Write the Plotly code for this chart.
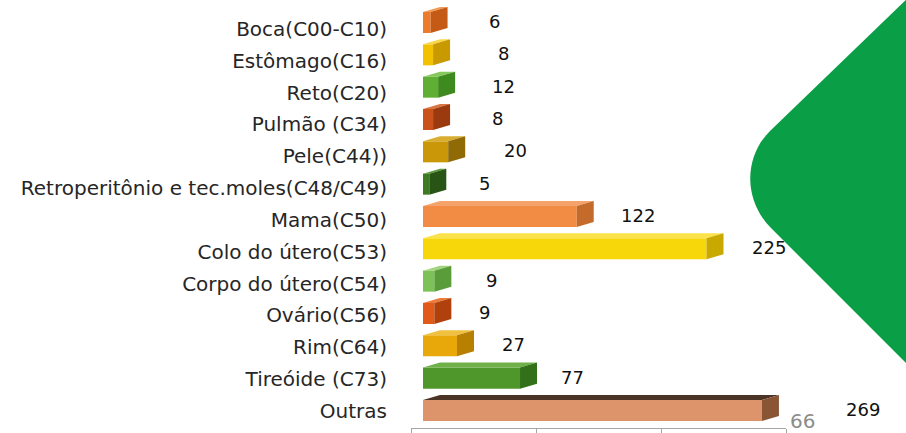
import plotly.graph_objects as go

# Casos por localização primária
categorias = [
    "Boca(C00-C10)", "Estômago(C16)", "Reto(C20)", "Pulmão (C34)", "Pele(C44))",
    "Retroperitônio e tec.moles(C48/C49)", "Mama(C50)", "Colo do útero(C53)",
    "Corpo do útero(C54)", "Ovário(C56)", "Rim(C64)", "Tireóide (C73)", "Outras",
]
casos = [6, 8, 12, 8, 20, 5, 122, 225, 9, 9, 27, 77, 269]

# front / top / side colours of each 3-D bar
cor_frente = ["#EE7A2B", "#F2C200", "#5FAF35", "#C9531B", "#C99708", "#3D7A22", "#F28C45",
              "#F7D60A", "#7CC257", "#E05A1A", "#E8A80A", "#4F962B", "#DE946A"]
cor_topo = ["#F49A55", "#F8D84A", "#86C75E", "#DB7540", "#D9AD30", "#5A9A3A", "#F5A36A",
            "#FAE34A", "#A0D57E", "#EE7A3A", "#F0C040", "#6FB048", "#4B3426"]
cor_lado = ["#C45A15", "#C89A00", "#3F8A1E", "#9A3A0E", "#8F6A05", "#285515", "#C46A2A",
            "#C9A800", "#5A9C3A", "#B0400C", "#B88000", "#33701A", "#8A5535"]
# horizontal nudge (px) of each value label past the bar's back edge
rotulo_dx = [47, 53, 48, 47, 50, 38, 44, 45, 40, 33, 39, 35, 84]

W, H = 906, 433
X0_PX, PX_POR_CASO = 423, 1.26          # bar origin and scale
ROW0_PX, ROW_PX = 20, 32.33             # first row centre and row pitch
AXIS_PX = 428                           # bottom of plotting area
DEPTH_X_PX, DEPTH_Y_PX = 17, 5          # 3-D depth offset

xmax = (W - X0_PX) / PX_POR_CASO
dx = DEPTH_X_PX / PX_POR_CASO
dy = DEPTH_Y_PX / ROW_PX
meia = 0.65 / 2
ydesl = 2.5 / ROW_PX

fig = go.Figure()

n = len(categorias)
for i in range(n):
    v = casos[i]
    yc = i + ydesl
    top, bot = yc - meia, yc + meia
    # front face
    fig.add_trace(go.Bar(x=[v], y=[yc], base=0, width=2 * meia, orientation="h",
                         marker=dict(color=cor_frente[i], line=dict(width=0)),
                         showlegend=False, hoverinfo="skip"))
    # top face
    fig.add_trace(go.Scatter(x=[0, v, v + dx, dx, 0], y=[top, top, top - dy, top - dy, top],
                             fill="toself", fillcolor=cor_topo[i], mode="lines",
                             line=dict(width=0), showlegend=False, hoverinfo="skip"))
    # side face
    fig.add_trace(go.Scatter(x=[v, v + dx, v + dx, v, v], y=[top, top - dy, bot - dy, bot, top],
                             fill="toself", fillcolor=cor_lado[i], mode="lines",
                             line=dict(width=0), showlegend=False, hoverinfo="skip"))
    fig.add_annotation(x=v, y=i + 0.05, xref="x", yref="y", text=str(v), showarrow=False,
                       xanchor="center", yanchor="middle", xshift=DEPTH_X_PX + rotulo_dx[i],
                       font=dict(family="DejaVu Sans", size=18, color="#111111"))

# category labels axis
fig.add_trace(go.Scatter(x=[None], y=[None], xaxis="x", yaxis="y2", showlegend=False))
# value axis (ticks only)
fig.add_trace(go.Scatter(x=[None], y=[None], xaxis="x2", yaxis="y", showlegend=False))

dom_y = [(H - AXIS_PX) / H, 1]
lab0, lab_step = 29, 31.83

fig.update_layout(
    width=W, height=H,
    margin=dict(l=0, r=0, t=0, b=0),
    paper_bgcolor="white", plot_bgcolor="rgba(0,0,0,0)",
    barmode="overlay",
    xaxis=dict(domain=[X0_PX / W, 1], range=[0, xmax], visible=False),
    yaxis=dict(domain=dom_y, range=[(AXIS_PX - ROW0_PX) / ROW_PX, -ROW0_PX / ROW_PX],
               visible=False),
    yaxis2=dict(domain=dom_y, overlaying="y", anchor="x",
                range=[(AXIS_PX - lab0) / lab_step, -lab0 / lab_step],
                tickmode="array", tickvals=list(range(n)), ticktext=categorias,
                ticks="outside", ticklen=31, tickcolor="rgba(0,0,0,0)",
                showline=False, showgrid=False, zeroline=False,
                tickfont=dict(family="DejaVu Sans", size=20, color="#262626")),
    xaxis2=dict(domain=[411 / W, 786 / W], range=[0, 300], anchor="y",
                tickmode="array", tickvals=[0, 100, 200, 300], showticklabels=False,
                ticks="outside", ticklen=6, tickcolor="#A6A6A6",
                showline=True, linecolor="#A6A6A6", linewidth=1,
                showgrid=False, zeroline=False),
)

# green rounded chevron on the right edge
def p(px, py):
    return f"{px / W:.5f},{1 - py / H:.5f}"

caminho = (f"M {p(912, -6)} L {p(770, 131)} "
           f"C {p(743, 158)} {p(744, 201)} {p(771, 228)} "
           f"L {p(912, 369)} Z")
fig.add_shape(type="path", path=caminho, xref="paper", yref="paper",
              fillcolor="#0A9F47", line=dict(width=0), layer="below")

# slide number
fig.add_annotation(x=802 / W, y=1 - 421 / H, xref="paper", yref="paper", text="66",
                   showarrow=False, xanchor="center", yanchor="middle",
                   font=dict(family="DejaVu Sans", size=20, color="#8C8C8C"))

fig.write_html("out.html")
